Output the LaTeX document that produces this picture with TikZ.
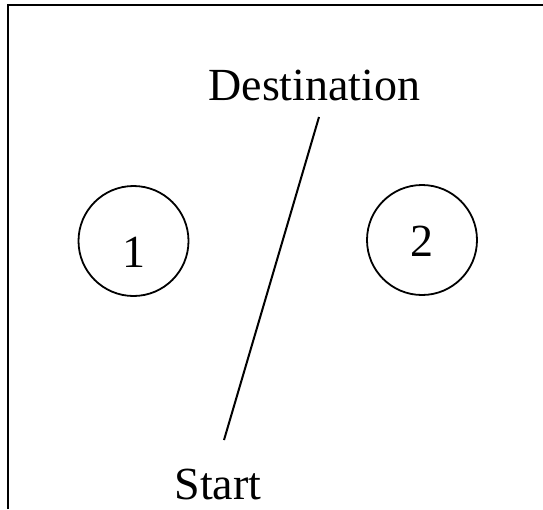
\documentclass[tikz,border=0pt]{standalone}
\usepackage{fontspec}
\setmainfont{Liberation Serif}
\begin{document}
\begin{tikzpicture}[x=1pt,y=-1pt,
  room/.style={circle,draw,line width=1.8pt,minimum size=110pt,inner sep=0pt,text height=32pt,text depth=0pt,font=\fontsize{46}{50}\selectfont},
  lbl/.style={inner sep=0pt,anchor=base,font=\fontsize{46}{50}\selectfont},
  path/.style={line width=2pt}]
\useasboundingbox (0,0) rectangle (543,509);
\draw[line width=2pt] (8,509) -- (8,5) -- (543,5);
\node[room] (r1) at (133.5,241) {\raisebox{-10pt}{1}};
\node[room] (r2) at (422,240) {2};
\node[lbl] (dest) at (314.5,100) {Destination};
\node[lbl] (start) at (218,499) {Start};
\coordinate (s) at (224,440);
\coordinate (d) at (319,117);
\draw[path] (s) -- (d);
\end{tikzpicture}
\end{document}
